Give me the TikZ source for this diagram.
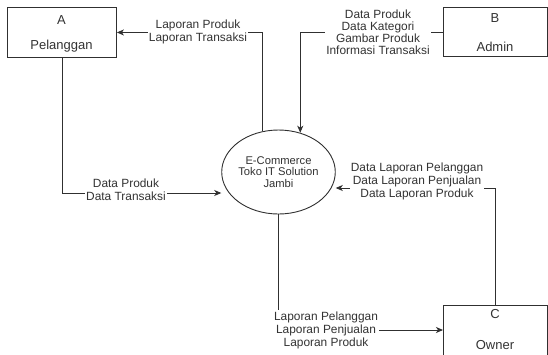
\documentclass[tikz,border=0pt]{standalone}
\usepackage{fontspec}
\setmainfont{Liberation Sans}
\usetikzlibrary{arrows.meta,shapes.geometric}
\definecolor{linec}{HTML}{303030}
\definecolor{txtc}{HTML}{333333}
\begin{document}
\begin{tikzpicture}[x=1pt,y=-1pt]
\tikzset{
  ent/.style={draw=linec, line width=0.9pt, rectangle, inner sep=0pt, anchor=north west},
  enttxt/.style={text=txtc, inner sep=0pt, font=\fontsize{13}{15}\selectfont},
  proc/.style={draw=linec, line width=0.9pt, ellipse, inner sep=0pt, minimum width=91pt, minimum height=84pt, align=center, text=txtc, font=\fontsize{11.2}{11.6}\selectfont},
  flow/.style={draw=linec, line width=0.9pt, -{Stealth[length=7pt,width=6pt,inset=2pt]}},
  lbl/.style={fill=white, inner sep=1pt, align=center, text=txtc, font=\fontsize{11.9}{13}\selectfont}
}
\useasboundingbox (0,0) rectangle (548,354);
\clip (0,0) rectangle (548,354);
\fill[white] (0,0) rectangle (548,354);

% entities
\node[ent, minimum width=109pt, minimum height=50pt] (A) at (7,7) {};
\node[enttxt] (Aid) at (61.5,20) {A};
\node[enttxt] (Aname) at (61.5,46) {Pelanggan};

\node[ent, minimum width=104pt, minimum height=49pt] (B) at (443,7) {};
\node[enttxt] (Bid) at (495,18) {B};
\node[enttxt] (Bname) at (495,47) {Admin};

\node[ent, minimum width=104pt, minimum height=70pt] (C) at (443,304.5) {};
\node[enttxt] (Cid) at (495,314.5) {C};
\node[enttxt] (Cname) at (495,345) {Owner};

% process
\node[proc] (P) at (278.5,172) {E-Commerce\\Toko IT Solution\\Jambi};

% helper coordinates for levels
\coordinate (ya) at (0,193);
\coordinate (yc) at (0,188);
\coordinate (yd) at (0,330);

% connectors
\draw[flow] (P.112.9) |- (A.east);
\draw[flow] (B.west) -| (P.61.3);
\draw[flow] (A.south) |- (P.west |- ya);
\draw[flow] (C.north) |- (P.east |- yc);
\draw[flow] (P.south) |- (C.west |- yd);

% labels
\node[lbl] (L1) at (198,32) {Laporan Produk\\Laporan Transaksi};
\node[lbl, font=\fontsize{11.9}{12}\selectfont] (L2) at (378,32) {Data Produk\\Data Kategori\\Gambar Produk\\Informasi Transaksi};
\node[lbl] (L3) at (126,190) {Data Produk\\Data Transaksi};
\node[lbl] (L4) at (417,181) {Data Laporan Pelanggan\\Data Laporan Penjualan\\Data Laporan Produk};
\node[lbl] (L5) at (326,330) {Laporan Pelanggan\\Laporan Penjualan\\Laporan Produk};
\end{tikzpicture}
\end{document}
